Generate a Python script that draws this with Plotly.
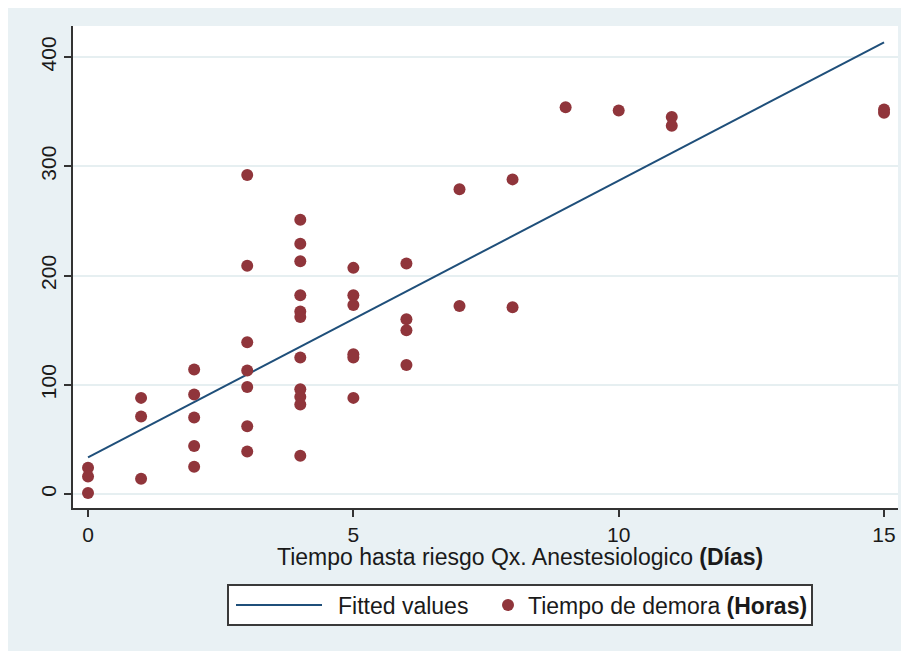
import plotly.graph_objects as go

# Observed data: x = Tiempo hasta riesgo Qx. (Días), y = Tiempo de demora (Horas)
dias = [0, 0, 0,
        1, 1, 1,
        2, 2, 2, 2, 2,
        3, 3, 3, 3, 3, 3, 3,
        4, 4, 4, 4, 4, 4, 4, 4, 4, 4, 4,
        5, 5, 5, 5, 5, 5,
        6, 6, 6, 6,
        7, 7,
        8, 8,
        9,
        10,
        11, 11,
        15, 15]
horas = [24, 16, 1,
         88, 71, 14,
         114, 91, 70, 44, 25,
         292, 209, 139, 113, 98, 62, 39,
         251, 229, 213, 182, 167, 162, 125, 96, 89, 82, 35,
         207, 182, 173, 128, 125, 88,
         211, 160, 150, 118,
         279, 172,
         288, 171,
         354,
         351,
         345, 337,
         352, 349]

# Fitted line endpoints
fit_x = [0, 15]
fit_y = [33.5, 413.5]

x_ticks = [0, 5, 10, 15]
y_ticks = [0, 100, 200, 300, 400]

x_title = "Tiempo hasta riesgo Qx. Anestesiologico <b>(Días)</b>"

NAVY = "#1f4f7a"
MAROON = "#90353b"
BG = "#e9f1f4"
FONT = "Liberation Sans, Arial, sans-serif"

fig = go.Figure()
fig.add_trace(go.Scatter(x=fit_x, y=fit_y, mode="lines", name="\u00a0\u2009Fitted values",
                         line=dict(color=NAVY, width=2), legend="legend"))
fig.add_trace(go.Scatter(x=dias, y=horas, mode="markers",
                         name="Tiempo de demora <b>(Horas)</b>",
                         marker=dict(color=MAROON, size=12, line=dict(width=0)),
                         legend="legend2"))

legend_common = dict(orientation="h", xref="container", yref="container",
                     y=1 - 597 / 651, yanchor="middle", xanchor="left",
                     bgcolor="rgba(0,0,0,0)", borderwidth=0,
                     font=dict(size=23, family=FONT, color="#1a1a1a"))

fig.update_layout(
    width=909, height=651,
    margin=dict(l=65, r=19, t=18, b=151),
    paper_bgcolor=BG,
    plot_bgcolor="white",
    font=dict(family=FONT, color="#1a1a1a"),
    showlegend=True,
    legend=dict(**legend_common, x=223 / 909, itemwidth=86),
    legend2=dict(**legend_common, x=480 / 909, itemwidth=30),
    shapes=[
        dict(type="rect", xref="paper", yref="paper",
             x0=(220 - 65) / 825, x1=(804 - 65) / 825,
             y0=(500 - 577) / 482, y1=(500 - 617) / 482,
             fillcolor="white", line=dict(color="#3a3a3a", width=2), layer="below"),
    ],
    annotations=[
        dict(text=x_title, xref="paper", yref="paper",
             x=(512 - 65) / 825, y=(500 - 549) / 482,
             xanchor="center", yanchor="middle", showarrow=False,
             font=dict(size=23, family=FONT, color="#1a1a1a")),
    ],
)
fig.update_xaxes(range=[-0.283, 15.263], tickvals=x_ticks, showgrid=False, zeroline=False,
                 showline=True, linecolor="#333333", linewidth=1.5,
                 ticks="outside", ticklen=7, tickcolor="#333333", tickwidth=1.5,
                 tickfont=dict(size=21))
fig.update_yaxes(range=[-12.8, 428.4], tickvals=y_ticks, showgrid=True,
                 gridcolor="#e6eff1", gridwidth=1.5, zeroline=False,
                 showline=True, linecolor="#333333", linewidth=1.5,
                 ticks="outside", ticklen=7, tickcolor="#333333", tickwidth=1.5,
                 tickangle=-90, tickfont=dict(size=21))

fig.write_html("out.html")
